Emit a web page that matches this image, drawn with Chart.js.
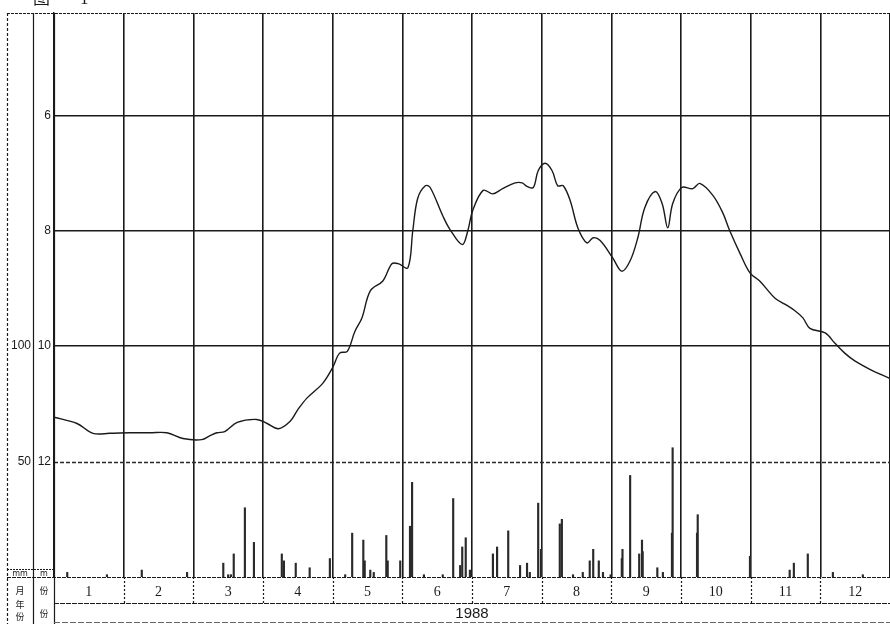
<!DOCTYPE html>
<html>
<head>
<meta charset="utf-8">
<script src="https://cdn.jsdelivr.net/npm/chart.js@4.4.1/dist/chart.umd.min.js"></script>
<style>
  html, body { margin: 0; padding: 0; background: #ffffff; }
  #wrap { width: 890px; height: 624px; }
</style>
</head>
<body>
<div id="wrap"><canvas id="c" width="890" height="624"></canvas></div>
<script>
// ---- data (month position within 1988, 0 = 1 Jan, 12 = 31 Dec) ----
const monthLabels = ['1','2','3','4','5','6','7','8','9','10','11','12'];
const yearLabel = '1988';
const levelTicks = [6, 8, 10, 12];
const precipTicks = [50, 100];

// groundwater depth (m)
const levelMonth = [0.00,0.33,0.56,0.80,1.09,1.38,1.62,1.85,2.12,2.24,2.34,2.45,2.63,2.91,3.06,3.22,3.39,3.50,3.63,3.86,
  4.00,4.10,4.21,4.32,4.42,4.54,4.72,4.85,4.94,5.08,5.15,5.22,5.33,5.40,5.58,5.68,5.86,5.94,6.01,6.16,
  6.30,6.44,6.62,6.72,6.79,6.88,6.95,7.05,7.15,7.23,7.31,7.41,7.52,7.65,7.74,7.84,8.02,8.15,8.27,8.38,
  8.48,8.63,8.73,8.81,8.88,9.01,9.17,9.27,9.46,9.60,9.70,9.85,9.99,10.13,10.35,10.49,10.64,10.75,10.85,11.07,
  11.21,11.35,11.50,11.71,12.00];
const levelValue = [11.23,11.34,11.51,11.51,11.50,11.50,11.50,11.60,11.62,11.55,11.50,11.48,11.32,11.27,11.34,11.43,11.30,11.10,10.90,10.64,
  10.37,10.12,10.09,9.74,9.51,9.04,8.87,8.57,8.57,8.64,8.00,7.44,7.22,7.25,7.74,7.97,8.24,8.00,7.65,7.30,
  7.36,7.27,7.17,7.17,7.23,7.25,6.96,6.83,6.96,7.22,7.22,7.48,7.95,8.21,8.12,8.17,8.47,8.70,8.52,8.12,
  7.60,7.32,7.53,7.95,7.53,7.25,7.27,7.18,7.39,7.69,8.00,8.40,8.73,8.87,9.17,9.27,9.39,9.51,9.69,9.77,
  9.95,10.12,10.26,10.40,10.56];

// daily precipitation (mm)
const precipMonth = [0.19,0.76,1.26,1.91,2.43,2.50,2.54,2.58,2.74,2.87,3.27,3.30,3.47,3.67,3.96,4.18,4.28,4.44,4.46,4.54,
  4.59,4.77,4.79,4.97,5.11,5.14,5.31,5.58,5.73,5.83,5.86,5.91,5.97,6.30,6.36,6.52,6.69,6.79,6.83,6.95,
  6.99,7.26,7.29,7.45,7.59,7.69,7.74,7.82,7.88,7.99,8.15,8.16,8.27,8.40,8.44,8.45,8.66,8.74,8.87,8.88,
  9.23,9.24,9.99,10.56,10.62,10.82,11.18,11.61];
const precipValue = [2,1,3,2,6,1,1,10,30,15,10,7,6,4,8,1,19,16,7,3,
  2,18,7,7,22,41,1,1,34,5,13,17,3,10,13,20,5,6,2,32,
  12,23,25,1,2,7,12,7,2,1,8,12,44,10,16,11,4,2,19,56,
  19,27,9,3,6,10,2,1];

// axis ranges (depth axis reversed; 25 mm of rain per metre of depth)
const levelTop = 4.226, levelBottom = 14.0;
const precipMax = (levelBottom - levelTop) * 25;
const dashedLevel = 12;

const levelData = levelMonth.map((m, i) => ({ x: m, y: levelValue[i] }));
const precipData = precipMonth.map((m, i) => ({ x: m, y: precipValue[i] }));

const INK = '#1a1a1a';

const framePlugin = {
  id: 'frame',
  beforeDatasetsDraw(chart) {
    // dashed grid line at the 12 m level
    const ctx = chart.ctx;
    const a = chart.chartArea;
    const py = Math.round(chart.scales.y.getPixelForValue(dashedLevel)) + 0.5;
    ctx.save();
    ctx.strokeStyle = '#2a2a2a';
    ctx.lineWidth = 1.3;
    ctx.setLineDash([4, 2]);
    ctx.beginPath(); ctx.moveTo(a.left, py); ctx.lineTo(a.right, py); ctx.stroke();
    ctx.restore();
  },
  afterDraw(chart) {
    const ctx = chart.ctx;
    const xs = chart.scales.x;
    const a = chart.chartArea;
    ctx.save();
    ctx.strokeStyle = INK;
    ctx.lineWidth = 1.2;
    const line = (x1, y1, x2, y2, dash) => {
      ctx.setLineDash(dash || []);
      ctx.beginPath(); ctx.moveTo(x1, y1); ctx.lineTo(x2, y2); ctx.stroke();
    };
    // outer frame of the sheet
    line(7, a.top + 0.5, 890, a.top + 0.5, [3, 1]);
    line(7.5, a.top, 7.5, 624, [3, 2]);
    line(33.5, a.top, 33.5, 624);
    line(54.5, a.top, 54.5, 624);
    line(7, a.bottom + 0.5, 890, a.bottom + 0.5, [4, 1]);
    line(7, a.bottom - 7.5, 54, a.bottom - 7.5, [2, 1]);
    line(54, 603.5, 890, 603.5, [5, 1]);
    ctx.strokeStyle = '#666';
    line(54, 622.5, 890, 622.5, [6, 2]);
    ctx.strokeStyle = INK;
    // month separators in the month row
    for (let m = 1; m < 12; m++) {
      const px = Math.round(xs.getPixelForValue(m)) + 0.5;
      line(px, a.bottom, px, 603, [2, 2]);
    }
    // header texts of the side columns
    ctx.setLineDash([]);
    ctx.fillStyle = INK;
    ctx.textAlign = 'center';
    ctx.textBaseline = 'middle';
    ctx.font = '8px "DejaVu Sans"';
    ctx.fillText('mm', 20, a.bottom - 3);
    ctx.fillText('m', 44, a.bottom - 3);
    ctx.font = '9px "Noto Sans CJK SC"';
    ctx.fillText('月', 20, 591);
    ctx.fillText('份', 44, 591);
    ctx.fillText('年', 20, 605);
    ctx.fillText('份', 20, 617);
    ctx.fillText('份', 44, 614);
    // cut-off caption at the very top
    ctx.font = '17px "Noto Sans CJK SC"';
    ctx.textAlign = 'left';
    ctx.textBaseline = 'alphabetic';
    ctx.fillText('图', 33, 4);
    ctx.font = '17px "Liberation Serif"';
    ctx.fillText('1', 80, 4);
    ctx.restore();
  }
};

new Chart(document.getElementById('c'), {
  type: 'bar',
  data: {
    datasets: [
      {
        type: 'line',
        label: '地下水位埋深',
        data: levelData,
        yAxisID: 'y',
        borderColor: INK,
        borderWidth: 1.4,
        pointRadius: 0,
        tension: 0.35,
        fill: false
      },
      {
        type: 'bar',
        label: '降水量',
        data: precipData,
        yAxisID: 'y2',
        backgroundColor: '#2a2a2a',
        barThickness: 1.5,
        grouped: false
      }
    ]
  },
  options: {
    responsive: false,
    animation: false,
    events: [],
    layout: { padding: { left: 7, top: 13, right: 0, bottom: 0 } },
    plugins: { legend: { display: false }, tooltip: { enabled: false } },
    scales: {
      x: {
        type: 'linear',
        position: 'bottom',
        offset: false,
        min: 0, max: 12,
        afterBuildTicks: s => { s.ticks = Array.from({ length: 25 }, (_, i) => ({ value: i * 0.5 })); },
        afterFit: s => { s.height = 47; s.paddingLeft = 0; s.paddingRight = 0; },
        grid: {
          offset: false,
          drawTicks: false,
          color: c => (c.tick && Number.isInteger(c.tick.value) && c.tick.value > 0) ? INK : 'rgba(0,0,0,0)',
          lineWidth: 1.6
        },
        border: { display: false },
        ticks: {
          autoSkip: false, maxRotation: 0, padding: 7,
          color: INK,
          font: { family: 'Liberation Serif', size: 14 },
          callback: v => Number.isInteger(v) ? '' : monthLabels[Math.floor(v)]
        },
        title: {
          display: true, text: yearLabel, color: INK, align: 'center',
          font: { family: 'Liberation Sans', size: 15 },
          padding: { top: 0, bottom: 1 }
        }
      },
      y: {
        type: 'linear',
        position: 'left',
        reverse: true,
        min: levelTop, max: levelBottom,
        afterBuildTicks: s => { s.ticks = levelTicks.map(v => ({ value: v })); },
        afterFit: s => { s.width = 21; },
        grid: {
          drawTicks: false,
          color: c => (c.tick && c.tick.value === dashedLevel) ? 'rgba(0,0,0,0)' : INK,
          lineWidth: 1.4
        },
        border: { display: true, color: INK, width: 1.4 },
        ticks: { padding: 3, color: INK, font: { family: 'Liberation Sans', size: 12 } }
      },
      y2: {
        type: 'linear',
        position: 'left',
        min: 0, max: precipMax,
        afterBuildTicks: s => { s.ticks = precipTicks.map(v => ({ value: v })); },
        afterFit: s => { s.width = 26; },
        grid: { drawTicks: false, drawOnChartArea: false },
        border: { display: false },
        ticks: { padding: 2, color: INK, font: { family: 'Liberation Sans', size: 12 } }
      }
    }
  },
  plugins: [framePlugin]
});
</script>
</body>
</html>
